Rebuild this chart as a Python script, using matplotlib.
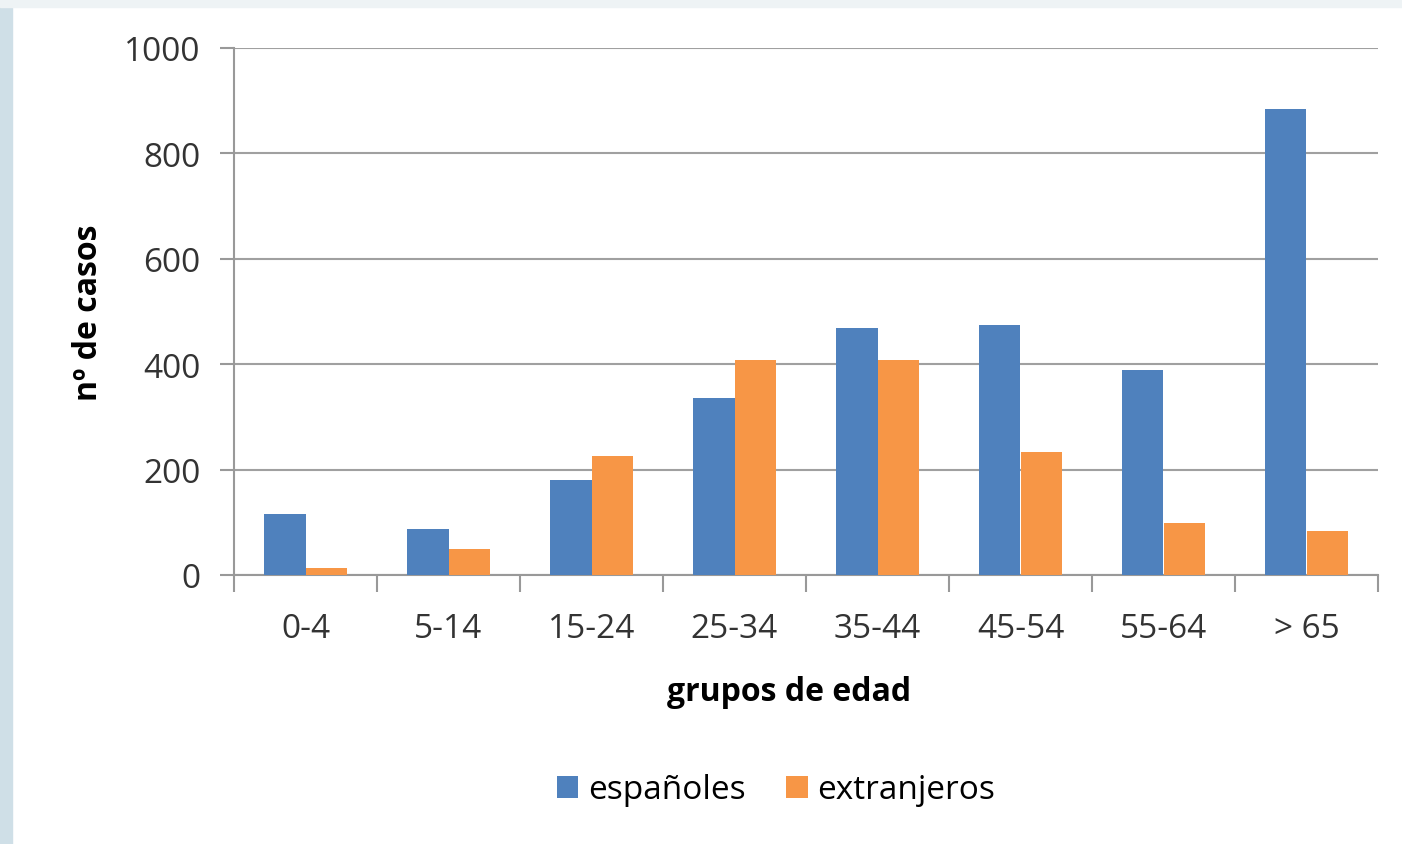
import matplotlib.pyplot as plt
import numpy as np
from matplotlib.patches import Rectangle

grupos = ["0-4", "5-14", "15-24", "25-34", "35-44", "45-54", "55-64", "> 65"]
espanoles = [116, 87, 180, 336, 469, 474, 389, 885]
extranjeros = [13, 49, 226, 408, 408, 233, 98, 83]
yticks = [0, 200, 400, 600, 800, 1000]

plt.rcParams['font.family'] = ['Open Sans', 'DejaVu Sans']

fig = plt.figure(figsize=(14.02, 8.45), dpi=100)
fig.patch.set_facecolor('white')
# slide background strips
fig.patches.append(Rectangle((0, 0), 12/1402, 1, transform=fig.transFigure,
                             color='#cfdfe7', zorder=0))
fig.patches.append(Rectangle((0, 1-8/845), 1, 8/845, transform=fig.transFigure,
                             color='#eef3f5', zorder=0))

ax = fig.add_axes([234/1402, 1-576/845, (1378-234)/1402, (576-49)/845])

x = np.arange(len(grupos))
w = 0.287
ax.bar(x - w/2, espanoles, w, color='#4f81bd', label='españoles', zorder=3)
ax.bar(x + w/2, extranjeros, w, color='#f79646', label='extranjeros', zorder=3)

ax.set_xlim(-0.5, len(grupos) - 0.5)
ax.set_ylim(0, 1000)
ax.set_yticks(yticks)
ax.set_yticklabels([str(v) for v in yticks], fontsize=24, color='#333333')
ax.set_xticks(x)
ax.set_xticklabels(grupos, fontsize=24, color='#333333')
ax.tick_params(axis='x', length=0, pad=27)
ax.set_xticks(np.arange(len(grupos) + 1) - 0.5, minor=True)
ax.tick_params(axis='x', which='minor', length=12, width=1.5, color='#999999')
ax.tick_params(axis='y', length=10, width=1.5, color='#999999', pad=14)

ax.grid(axis='y', color='#a0a0a0', linewidth=1.5, zorder=0)
for s in ['top', 'right']:
    ax.spines[s].set_visible(False)
for s in ['left', 'bottom']:
    ax.spines[s].set_color('#999999')
    ax.spines[s].set_linewidth(1.5)

ax.set_xlabel('grupos de edad', fontsize=23, fontweight='bold')
ax.xaxis.set_label_coords(0.485, -0.19)
ax.set_ylabel('nº de casos', fontsize=23, fontweight='bold', labelpad=14)

fig.legend(loc='center', bbox_to_anchor=(776/1402, 1-791/845), ncol=2,
           frameon=False, fontsize=24, handlelength=0.65, handleheight=0.65,
           handletextpad=0.3, columnspacing=1.2)

plt.savefig('out.png', dpi=100)
